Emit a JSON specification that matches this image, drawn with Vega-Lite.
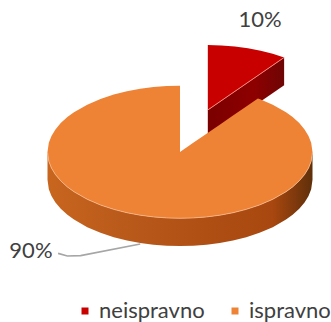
{
  "$schema": "https://vega.github.io/schema/vega-lite/v6.json",
  "width": 331,
  "height": 322,
  "padding": 0,
  "autosize": "none",
  "background": "white",
  "config": {"view": {"stroke": null}},
  "datasets": {
    "tops": [
      {"part":"neispravno","x":21,"y":80.7,"y2":31.7},
      {"part":"neispravno","x":31.24,"y":80.43,"y2":38.75},
      {"part":"neispravno","x":41.38,"y":79.63,"y2":45.72},
      {"part":"neispravno","x":51.28,"y":78.3,"y2":52.53},
      {"part":"neispravno","x":60.86,"y":76.46,"y2":59.12},
      {"part":"neispravno","x":70,"y":74.13,"y2":65.41},
      {"part":"neispravno","x":78.6,"y":71.34,"y2":71.34},
      {"part":"ispravno","x":-100,"y":0,"y2":0},
      {"part":"ispravno","x":-99,"y":7.05,"y2":-7.05},
      {"part":"ispravno","x":-97,"y":12.16,"y2":-12.16},
      {"part":"ispravno","x":-94,"y":17.06,"y2":-17.06},
      {"part":"ispravno","x":-90,"y":21.79,"y2":-21.79},
      {"part":"ispravno","x":-85,"y":26.34,"y2":-26.34},
      {"part":"ispravno","x":-80,"y":30,"y2":-30},
      {"part":"ispravno","x":-70,"y":35.71,"y2":-35.71},
      {"part":"ispravno","x":-60,"y":40,"y2":-40},
      {"part":"ispravno","x":-50,"y":43.3,"y2":-43.3},
      {"part":"ispravno","x":-40,"y":45.83,"y2":-45.83},
      {"part":"ispravno","x":-30,"y":47.7,"y2":-47.7},
      {"part":"ispravno","x":-20,"y":48.99,"y2":-48.99},
      {"part":"ispravno","x":-10,"y":49.75,"y2":-49.75},
      {"part":"ispravno","x":0,"y":50,"y2":-50},
      {"part":"ispravno","x":0.01,"y":0,"y2":-50},
      {"part":"ispravno","x":10,"y":6.88,"y2":-49.75},
      {"part":"ispravno","x":20,"y":13.76,"y2":-48.99},
      {"part":"ispravno","x":30,"y":20.64,"y2":-47.7},
      {"part":"ispravno","x":40,"y":27.53,"y2":-45.83},
      {"part":"ispravno","x":50,"y":34.41,"y2":-43.3},
      {"part":"ispravno","x":58.78,"y":40.45,"y2":-40.45},
      {"part":"ispravno","x":60,"y":40,"y2":-40},
      {"part":"ispravno","x":70,"y":35.71,"y2":-35.71},
      {"part":"ispravno","x":80,"y":30,"y2":-30},
      {"part":"ispravno","x":85,"y":26.34,"y2":-26.34},
      {"part":"ispravno","x":90,"y":21.79,"y2":-21.79},
      {"part":"ispravno","x":94,"y":17.06,"y2":-17.06},
      {"part":"ispravno","x":97,"y":12.16,"y2":-12.16},
      {"part":"ispravno","x":99,"y":7.05,"y2":-7.05},
      {"part":"ispravno","x":100,"y":0,"y2":0}
    ],
    "redWall": [
      {"x":21,"y":31.7,"y2":10.7},
      {"x":78.6,"y":71.34,"y2":50.34}
    ],
    "orangeWall": [
      {"x":-100,"y":0,"y2":-21},
      {"x":-99,"y":-7.05,"y2":-28.05},
      {"x":-97,"y":-12.16,"y2":-33.16},
      {"x":-94,"y":-17.06,"y2":-38.06},
      {"x":-90,"y":-21.79,"y2":-42.79},
      {"x":-85,"y":-26.34,"y2":-47.34},
      {"x":-80,"y":-30,"y2":-51},
      {"x":-70,"y":-35.71,"y2":-56.71},
      {"x":-60,"y":-40,"y2":-61},
      {"x":-50,"y":-43.3,"y2":-64.3},
      {"x":-40,"y":-45.83,"y2":-66.83},
      {"x":-30,"y":-47.7,"y2":-68.7},
      {"x":-20,"y":-48.99,"y2":-69.99},
      {"x":-10,"y":-49.75,"y2":-70.75},
      {"x":0,"y":-50,"y2":-71},
      {"x":10,"y":-49.75,"y2":-70.75},
      {"x":20,"y":-48.99,"y2":-69.99},
      {"x":30,"y":-47.7,"y2":-68.7},
      {"x":40,"y":-45.83,"y2":-66.83},
      {"x":50,"y":-43.3,"y2":-64.3},
      {"x":60,"y":-40,"y2":-61},
      {"x":70,"y":-35.71,"y2":-56.71},
      {"x":80,"y":-30,"y2":-51},
      {"x":85,"y":-26.34,"y2":-47.34},
      {"x":90,"y":-21.79,"y2":-42.79},
      {"x":94,"y":-17.06,"y2":-38.06},
      {"x":97,"y":-12.16,"y2":-33.16},
      {"x":99,"y":-7.05,"y2":-28.05},
      {"x":100,"y":0,"y2":-21}
    ],
    "leader": [
      {"x":-92,"y":-76.5},
      {"x":-85,"y":-78.5},
      {"x":-75,"y":-78.2},
      {"x":-30,"y":-69.5}
    ],
    "labels": [
      {"part":"neispravno","share":10,"label":"10%","x":60.4,"y":99.6},
      {"part":"ispravno","share":90,"label":"90%","x":-112.5,"y":-74.7}
    ]
  },
  "encoding": {
    "x": {"field":"x","type":"quantitative","axis":null,"scale":{"domain":[-135.85,113.96],"nice":false,"zero":false}},
    "y": {"field":"y","type":"quantitative","axis":null,"scale":{"domain":[-128.3,114.7],"nice":false,"zero":false}}
  },
  "layer": [
    {
      "data": {"name":"redWall"},
      "mark": {"type":"area","color":{"x1":0,"y1":0,"x2":1,"y2":0,"gradient":"linear","stops":[{"offset":0,"color":"#7a0000"},{"offset":0.6,"color":"#8e0000"},{"offset":1,"color":"#6e0505"}]}},
      "encoding": {"y2":{"field":"y2"}}
    },
    {
      "data": {"name":"orangeWall"},
      "mark": {"type":"area","color":{"x1":0,"y1":0,"x2":1,"y2":0,"gradient":"linear","stops":[{"offset":0,"color":"#c8661f"},{"offset":0.3,"color":"#b9591a"},{"offset":0.6,"color":"#b04f14"},{"offset":0.85,"color":"#a8470f"},{"offset":1,"color":"#5f2f0a"}]}},
      "encoding": {"y2":{"field":"y2"}}
    },
    {
      "data": {"name":"tops"},
      "mark": {"type":"area"},
      "encoding": {
        "y2": {"field":"y2"},
        "color": {
          "field":"part","type":"nominal","sort":null,
          "scale":{"domain":["neispravno","ispravno"],"range":["#c80000","#ee8235"]},
          "legend":{"title":null,"orient":"none","legendX":74,"legendY":300,"direction":"horizontal","columns":2,"symbolType":"square","symbolSize":49,"symbolStrokeWidth":0,"labelFont":"Lato","labelFontSize":22,"labelColor":"#404040","labelOffset":3,"columnPadding":19,"labelLimit":140}
        }
      }
    },
    {
      "data": {"name":"orangeWall"},
      "mark": {"type":"line","color":"#f6b98c","strokeWidth":1,"opacity":0.8}
    },
    {
      "data": {"name":"redWall"},
      "mark": {"type":"line","color":"#f28a80","strokeWidth":1},
      "transform": [{"filter":"datum.y > 0"}]
    },
    {
      "data": {"name":"leader"},
      "mark": {"type":"line","color":"#a6a6a6","strokeWidth":1.6}
    },
    {
      "data": {"name":"labels"},
      "mark": {"type":"text","font":"Lato","fontSize":22,"color":"#404040"},
      "encoding": {"text":{"field":"label"}}
    }
  ]
}
